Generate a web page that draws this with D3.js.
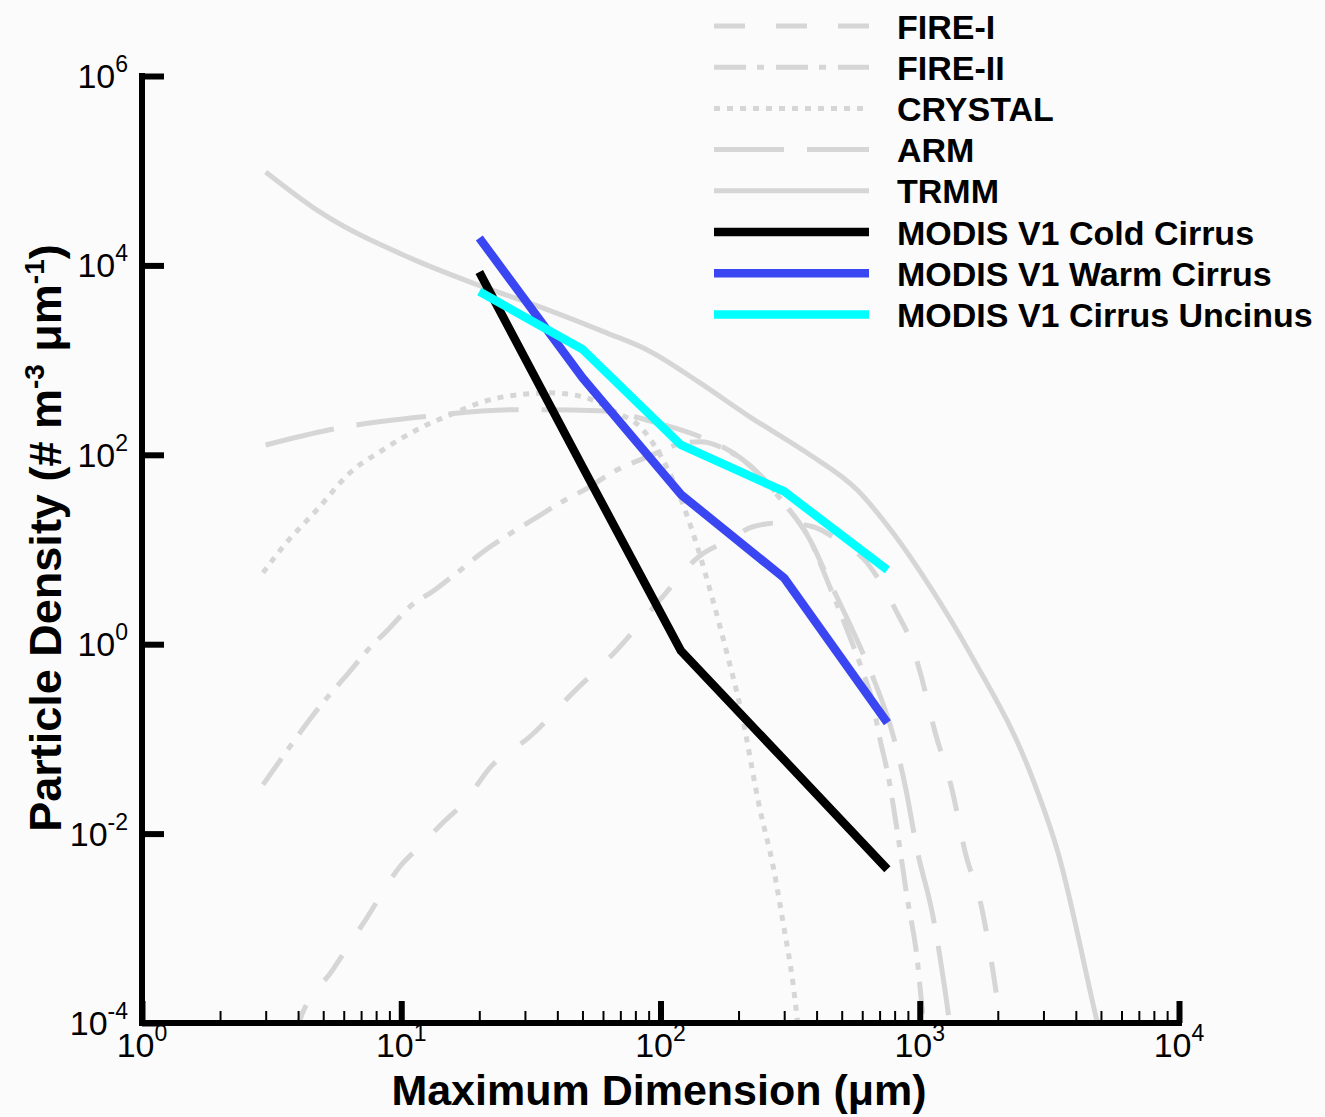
<!DOCTYPE html>
<html><head><meta charset="utf-8">
<script src="https://cdn.jsdelivr.net/npm/d3@7"></script>
<style>body{margin:0;background:#fbfbfb} svg{display:block;background:#fbfbfb}</style>
</head><body><svg id="c" width="1325" height="1117"></svg>
<script>
// ---- data ----
const modisD = [20, 50, 120, 300, 750];
const coldN = [8500, 75, 0.85, 0.06, 0.0042];
const warmN = [19500, 650, 38, 5.0, 0.148];
const uncinusN = [5300, 1300, 127, 41, 6.1];

const trmmD = [3, 4.9, 10.8, 18.9, 34.3, 62, 89, 142, 221, 367, 573, 788, 1095, 1560, 2735, 3415, 4830, 5000];
const trmmN = [9.7e4, 3.6e4, 1.2e4, 6.5e3, 3.65e3, 1.94e3, 1.28e3, 575, 252, 105, 42.7, 15.0, 4.05, 0.81, 0.037, 0.0063, 1.04e-4, 7e-5];

const armD = [3, 5.3, 12.1, 28, 58, 100, 142, 208, 308, 377, 451, 538, 654, 788, 885, 976, 1125, 1274, 1320];
const armN = [127, 184, 252, 299, 291, 212, 155, 88.5, 28.3, 12.7, 4.46, 1.61, 0.476, 0.111, 0.0291, 0.0068, 0.00133, 1.57e-4, 7.6e-5];

const fire2D = [2.93, 3.72, 4.37, 5.17, 6.18, 7.38, 8.89, 10.8, 13.5, 16.6, 20.7, 25.6, 33.4, 41, 52.5, 68, 83.4, 99.6, 119, 142, 185, 231, 302, 377, 443, 515, 599, 654, 703, 754, 824, 893, 976, 1029, 1048];
const fire2N = [0.0329, 0.0828, 0.152, 0.272, 0.476, 0.853, 1.42, 2.49, 3.76, 5.82, 9.47, 14.0, 22.0, 31.1, 44.8, 69.5, 88.5, 108, 131, 137, 108, 69.5, 29.7, 12.7, 4.46, 1.61, 0.538, 0.26, 0.098, 0.042, 0.00953, 0.00216, 4.91e-4, 1.17e-4, 7.6e-5];

const crystalD = [2.93, 3.5, 4.73, 6.34, 8.5, 11.5, 15.4, 20.7, 28, 37.5, 50.2, 68, 83.4, 99.6, 116, 138, 159, 181, 203, 242, 272, 297, 324, 342];
const crystalN = [5.69, 10.7, 26.3, 64.6, 113, 184, 264, 363, 430, 451, 409, 278, 198, 100, 42.7, 11.2, 2.95, 0.775, 0.219, 0.0179, 0.00449, 0.00115, 2.68e-4, 7.6e-5];

const fire1D = [3.89, 4.07, 5.45, 7.38, 9.89, 12, 14.5, 17.6, 22, 31.4, 46, 68, 99.6, 142, 185, 227, 297, 387, 493, 626, 722, 817, 917, 1002, 1145, 1332, 1495, 1739, 1917, 2077];
const fire1N = [7.6e-5, 1.09e-4, 3.67e-4, 0.0013, 0.00449, 0.00766, 0.0131, 0.0218, 0.0498, 0.106, 0.308, 0.875, 2.95, 8.59, 12.7, 17.4, 19.2, 17.4, 12.1, 7.24, 4.05, 2.15, 1.12, 0.513, 0.119, 0.0291, 0.00646, 0.00158, 3.5e-4, 7.6e-5];

const seriesNames = ["FIRE-I", "FIRE-II", "CRYSTAL", "ARM", "TRMM",
  "MODIS V1 Cold Cirrus", "MODIS V1 Warm Cirrus", "MODIS V1 Cirrus Uncinus"];
const xTickExp = [0, 1, 2, 3, 4];
const yTickExp = [-4, -2, 0, 2, 4, 6];
const xTitle = "Maximum Dimension (\u03bcm)";

// ---- chart ----
const svg = d3.select("#c");
const FONT = "'Liberation Sans', Arial, Helvetica, sans-serif";
const GRAY = "#d6d6d6";
const L = 142, R = 1179, T = 76, B = 1023;
const x = d3.scaleLog().domain([1, 1e4]).range([L, R]);
const y = d3.scaleLog().domain([1e-4, 1e6]).range([B, T]);

const zip = (a, b) => a.map((v, i) => [v, b[i]]);
const series = [
  {name: seriesNames[0], pts: zip(fire1D, fire1N), color: GRAY, w: 5, dash: "31,31", smooth: true},
  {name: seriesNames[1], pts: zip(fire2D, fire2N), color: GRAY, w: 5, dash: "32,11,7,12", smooth: true},
  {name: seriesNames[2], pts: zip(crystalD, crystalN), color: GRAY, w: 5, dash: "6,7", smooth: true},
  {name: seriesNames[3], pts: zip(armD, armN), color: GRAY, w: 5, dash: "70,23", smooth: true},
  {name: seriesNames[4], pts: zip(trmmD, trmmN), color: GRAY, w: 5, dash: null, smooth: true},
  {name: seriesNames[5], pts: zip(modisD, coldN), color: "#000000", w: 8.5, dash: null, smooth: false},
  {name: seriesNames[6], pts: zip(modisD, warmN), color: "#3a46f2", w: 8.5, dash: null, smooth: false},
  {name: seriesNames[7], pts: zip(modisD, uncinusN), color: "#00ffff", w: 8.5, dash: null, smooth: false}
];

svg.append("defs").append("clipPath").attr("id", "plot")
  .append("rect").attr("x", L).attr("y", T).attr("width", R - L).attr("height", B - T);

const gLines = svg.append("g").attr("clip-path", "url(#plot)");
series.forEach(s => {
  const line = d3.line().x(d => x(d[0])).y(d => y(d[1]))
    .curve(s.smooth ? d3.curveMonotoneX : d3.curveLinear);
  gLines.append("path").attr("d", line(s.pts))
    .attr("fill", "none").attr("stroke", s.color).attr("stroke-width", s.w)
    .attr("stroke-dasharray", s.dash).attr("stroke-linejoin", "round")
    .attr("stroke-linecap", "butt");
});

// ---- axes ----
const majorX = xTickExp.map(e => Math.pow(10, e));
const minorX = [];
xTickExp.slice(0, -1).forEach(e => { for (let k = 2; k <= 9; k++) minorX.push(k * Math.pow(10, e)); });
const majorY = yTickExp.map(e => Math.pow(10, e));

const gx = svg.append("g").attr("transform", `translate(0,${B})`);
gx.append("g").call(d3.axisBottom(x).tickValues(minorX).tickSizeInner(-12).tickSizeOuter(0).tickFormat(""))
  .call(g => g.select(".domain").remove())
  .call(g => g.selectAll("line").attr("stroke", "#000").attr("stroke-width", 2));
gx.append("g").call(d3.axisBottom(x).tickValues(majorX).tickSizeInner(-22).tickSizeOuter(0).tickFormat(""))
  .call(g => g.select(".domain").remove())
  .call(g => g.selectAll("line").attr("stroke", "#000").attr("stroke-width", 6));

const gy = svg.append("g").attr("transform", `translate(${L},0)`);
gy.append("g").call(d3.axisLeft(y).tickValues(majorY).tickSizeInner(-22).tickSizeOuter(0).tickFormat(""))
  .call(g => g.select(".domain").remove())
  .call(g => g.selectAll("line").attr("stroke", "#000").attr("stroke-width", 6));

svg.append("line").attr("x1", L).attr("x2", L).attr("y1", T - 3).attr("y2", B + 3)
  .attr("stroke", "#000").attr("stroke-width", 6);
svg.append("line").attr("x1", L - 3).attr("x2", R + 3).attr("y1", B).attr("y2", B)
  .attr("stroke", "#000").attr("stroke-width", 6);

// tick labels
xTickExp.forEach(e => {
  const t = svg.append("text").attr("x", x(Math.pow(10, e))).attr("y", 1057)
    .attr("text-anchor", "middle").attr("font-family", FONT).attr("font-size", 34).attr("fill", "#000");
  t.append("tspan").text("10");
  t.append("tspan").attr("dy", -16).attr("font-size", 23).text(e);
});
yTickExp.forEach(e => {
  const t = svg.append("text").attr("x", 128).attr("y", y(Math.pow(10, e)) + 12)
    .attr("text-anchor", "end").attr("font-family", FONT).attr("font-size", 34).attr("fill", "#000");
  t.append("tspan").text("10");
  t.append("tspan").attr("dy", -16).attr("font-size", 23).text(e);
});

// axis titles
svg.append("text").attr("x", 659).attr("y", 1105).attr("text-anchor", "middle")
  .attr("font-family", FONT).attr("font-weight", "bold").attr("font-size", 43).text(xTitle);

const yt = svg.append("text").attr("transform", "translate(61,538) rotate(-90)")
  .attr("text-anchor", "middle").attr("font-family", FONT).attr("font-weight", "bold").attr("font-size", 45);
yt.append("tspan").text("Particle Density (# m");
yt.append("tspan").attr("dy", -17).attr("font-size", 28).text("-3");
yt.append("tspan").attr("dy", 17).text(" \u03bcm");
yt.append("tspan").attr("dy", -17).attr("font-size", 28).text("-1");
yt.append("tspan").attr("dy", 17).text(")");

// legend
const lg = svg.append("g");
series.forEach((s, i) => {
  const cy = 26 + i * 41.2;
  lg.append("line").attr("x1", 714).attr("x2", 869).attr("y1", cy).attr("y2", cy)
    .attr("stroke", s.color).attr("stroke-width", s.w).attr("stroke-dasharray", s.dash);
  lg.append("text").attr("x", 897).attr("y", cy + 12.5).attr("font-family", FONT)
    .attr("font-weight", "bold").attr("font-size", 34).attr("fill", "#000").text(s.name);
});
</script>
</body></html>
